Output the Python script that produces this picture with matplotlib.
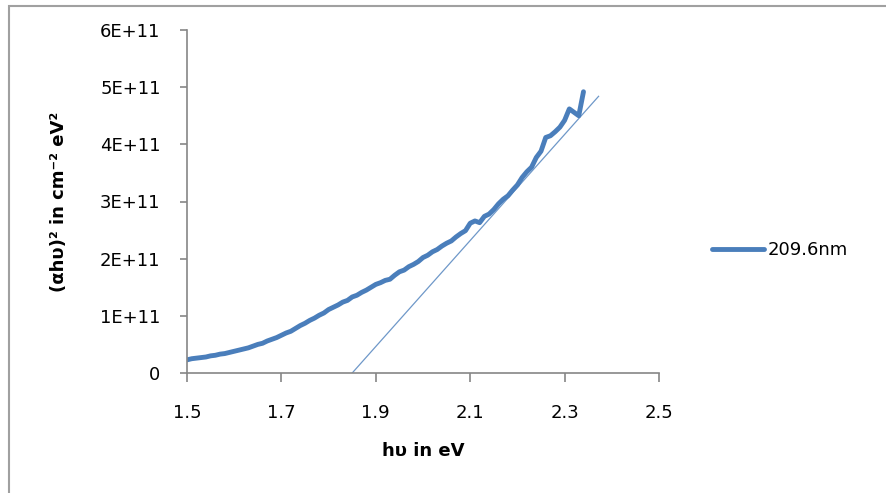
import matplotlib
matplotlib.use('Agg')
import matplotlib.pyplot as plt
from matplotlib.patches import Rectangle
import numpy as np

# photon energy (eV) and (alpha h nu)^2 in units of 1E+11
energy = [1.50, 1.51, 1.52, 1.53, 1.54, 1.55, 1.56, 1.57, 1.58, 1.59,
          1.60, 1.61, 1.62, 1.63, 1.64, 1.65, 1.66, 1.67, 1.68, 1.69,
          1.70, 1.71, 1.72, 1.73, 1.74, 1.75, 1.76, 1.77, 1.78, 1.79,
          1.80, 1.81, 1.82, 1.83, 1.84, 1.85, 1.86, 1.87, 1.88, 1.89,
          1.90, 1.91, 1.92, 1.93, 1.94, 1.95, 1.96, 1.97, 1.98, 1.99,
          2.00, 2.01, 2.02, 2.03, 2.04, 2.05, 2.06, 2.07, 2.08, 2.09,
          2.10, 2.11, 2.12, 2.13, 2.14, 2.15, 2.16, 2.17, 2.18, 2.19,
          2.20, 2.21, 2.22, 2.23, 2.24, 2.25, 2.26, 2.27, 2.28, 2.29,
          2.30, 2.31, 2.32, 2.33, 2.34]
absorb = [0.23, 0.25, 0.26, 0.27, 0.28, 0.30, 0.31, 0.33, 0.34, 0.36,
          0.38, 0.40, 0.42, 0.44, 0.47, 0.50, 0.52, 0.56, 0.59, 0.62,
          0.66, 0.70, 0.73, 0.78, 0.83, 0.87, 0.92, 0.96, 1.01, 1.05,
          1.11, 1.15, 1.19, 1.24, 1.27, 1.33, 1.36, 1.41, 1.45, 1.50,
          1.55, 1.58, 1.62, 1.64, 1.71, 1.77, 1.80, 1.86, 1.90, 1.95,
          2.02, 2.06, 2.12, 2.16, 2.22, 2.27, 2.31, 2.38, 2.44, 2.49,
          2.62, 2.66, 2.63, 2.74, 2.78, 2.86, 2.96, 3.04, 3.10, 3.20,
          3.29, 3.42, 3.52, 3.60, 3.77, 3.88, 4.12, 4.15, 4.22, 4.30,
          4.42, 4.62, 4.56, 4.50, 4.92]

# linear extrapolation of the band edge
tangent_x = [1.85, 2.372]
tangent_y = [0.0, 4.84]

xticks = [1.5, 1.7, 1.9, 2.1, 2.3, 2.5]
yticks = [0, 1, 2, 3, 4, 5, 6]
ytick_labels = ['0', '1E+11', '2E+11', '3E+11', '4E+11', '5E+11', '6E+11']

blue = '#4a7ebb'
axis_grey = '#868686'

fig = plt.figure(figsize=(8.87, 4.93), dpi=100)
ax = fig.add_axes([187 / 887, 120 / 493, 472 / 887, 343 / 493])

scale = 1e11
ax.plot(energy, np.array(absorb) * scale, color=blue, lw=3.5,
        solid_joinstyle='round', solid_capstyle='round', label='209.6nm')
ax.plot(tangent_x, np.array(tangent_y) * scale, color=blue, lw=0.9, alpha=0.8)

ax.set_xlim(1.5, 2.5)
ax.set_ylim(0, 6 * scale)
ax.set_xticks(xticks)
ax.set_xticklabels([f'{t:.1f}' for t in xticks])
ax.set_yticks([t * scale for t in yticks])
ax.set_yticklabels(ytick_labels)

for side in ('top', 'right'):
    ax.spines[side].set_visible(False)
for side in ('left', 'bottom'):
    ax.spines[side].set_color(axis_grey)
    ax.spines[side].set_linewidth(1.2)

ax.tick_params(axis='x', direction='out', length=6.5, width=1.2,
               color=axis_grey, pad=16, labelsize=13, labelcolor='black')
ax.tick_params(axis='y', direction='out', length=5, width=1.2,
               color=axis_grey, pad=14, labelsize=13, labelcolor='black')

ax.set_xlabel('hυ in eV', fontsize=13, fontweight='bold', labelpad=14)
fig.text(59 / 887, 1 - 202 / 493, '(αhυ)² in cm⁻² eV²', rotation=90,
         fontsize=13, fontweight='bold', ha='center', va='center')

ax.legend(loc='center left', bbox_to_anchor=(712 / 887, 1 - 250 / 493),
          bbox_transform=fig.transFigure, frameon=False, fontsize=13,
          handlelength=2.9, handletextpad=0.2, borderaxespad=0, borderpad=0)

# chart area outline
fig.patches.append(Rectangle((9 / 887, -0.1), 1.2, 1 - 6 / 493 + 0.1,
                             transform=fig.transFigure, fill=False,
                             edgecolor='#a0a0a0', lw=1.5))

fig.savefig('out.png', dpi=100, facecolor='white')
